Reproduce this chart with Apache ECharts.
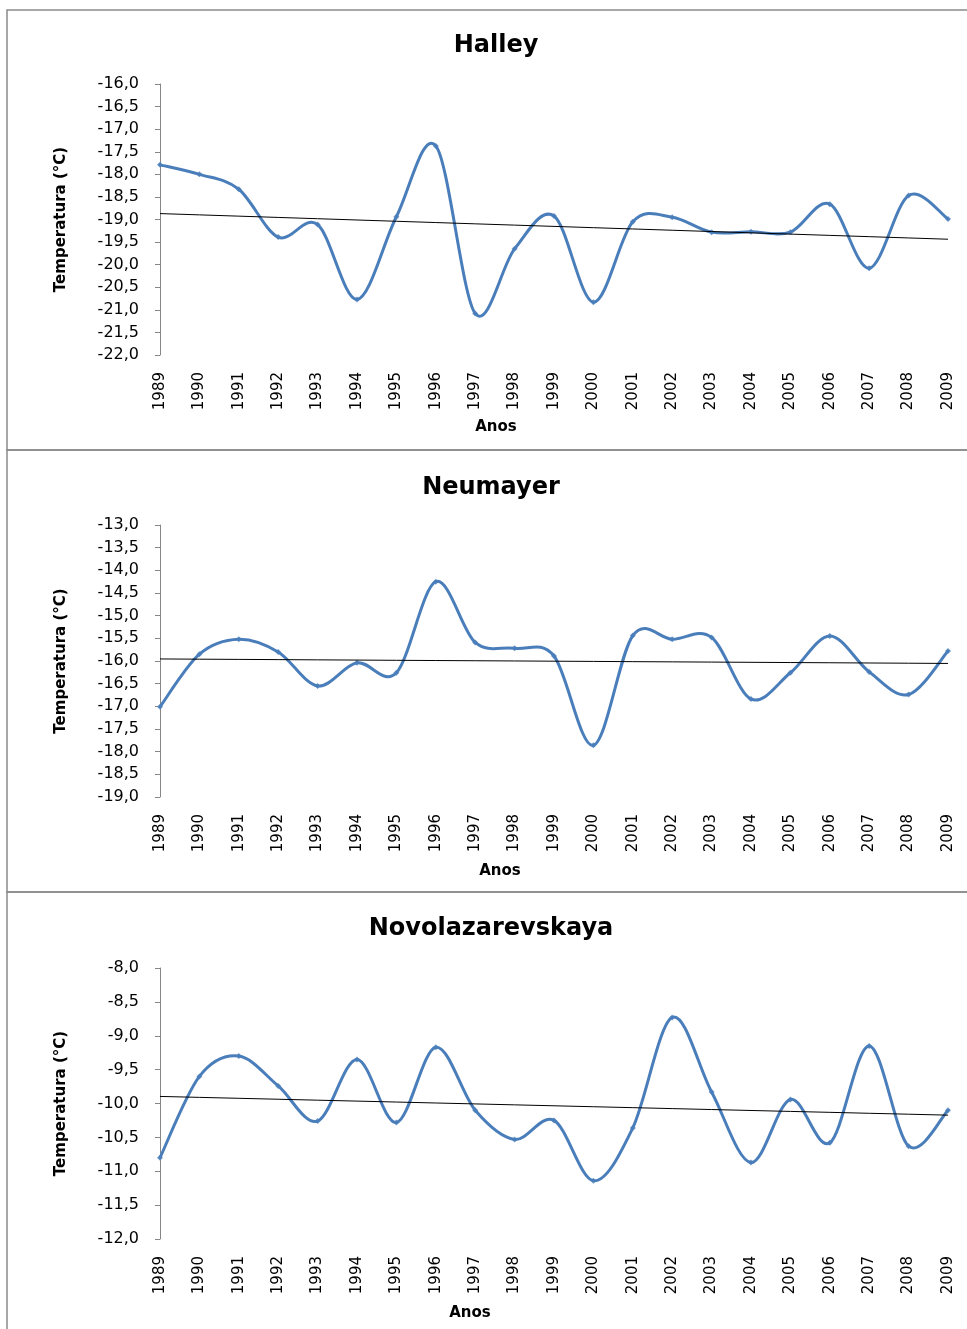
<!DOCTYPE html>
<html>
<head>
<meta charset="utf-8">
<script src="https://cdn.jsdelivr.net/npm/echarts@6/dist/echarts.min.js"></script>
<style>
html,body{margin:0;padding:0;background:#fff;}
#chart{width:967px;height:1329px;}
</style>
</head>
<body>
<div id="chart"></div>
<script>
// ---- data ----
const years = ['1989','1990','1991','1992','1993','1994','1995','1996','1997','1998','1999',
               '2000','2001','2002','2003','2004','2005','2006','2007','2008','2009'];
const halley = [-17.79,-18.00,-18.33,-19.39,-19.11,-20.77,-18.94,-17.37,-21.08,-19.65,-18.92,
                -20.83,-19.05,-18.95,-19.28,-19.27,-19.28,-18.66,-20.08,-18.47,-18.99];
const neumayer = [-17.01,-15.85,-15.52,-15.80,-16.55,-16.04,-16.26,-14.25,-15.59,-15.72,-15.89,
                  -17.86,-15.44,-15.52,-15.48,-16.84,-16.26,-15.45,-16.24,-16.74,-15.78];
const novolazarevskaya = [-10.80,-9.60,-9.30,-9.74,-10.26,-9.35,-10.28,-9.17,-10.10,-10.53,-10.25,
                          -11.14,-10.36,-8.73,-9.83,-10.87,-9.94,-10.58,-9.15,-10.63,-10.10];
const stationNames = ['Halley','Neumayer','Novolazarevskaya'];
const yMins = [-22,-19,-12];
const yMaxs = [-16,-13,-8];
const yStep = 0.5;
const yAxisTitle = 'Temperatura (°C)';
const xAxisTitle = 'Anos';

// ---- helpers ----
function linearTrend(vals){
  const n = vals.length;
  let sx=0, sy=0;
  for(let i=0;i<n;i++){ sx+=i; sy+=vals[i]; }
  const mx=sx/n, my=sy/n;
  let num=0, den=0;
  for(let i=0;i<n;i++){ num+=(i-mx)*(vals[i]-my); den+=(i-mx)*(i-mx); }
  const b=num/den, a=my-b*mx;
  return vals.map((_,i)=>+(a+b*i).toFixed(4));
}
const series = [halley, neumayer, novolazarevskaya];

// ---- layout (positions/styles only) ----
const FONT = 'DejaVu Sans';
const BLUE = '#4A7EBB';
const gridTops = [84, 525, 968];
const gridHeights = [271, 272, 271];
const titleCenters = [[496, 34], [491, 476], [491, 917]];
const xNamePos = [[496, 427], [500, 871], [470, 1313]];
const panelRects = [[7,10,975,440],[7,450,975,442],[7,892,975,450]];

// Smooth (Catmull-Rom style) segment drawn through the axis scales
function smoothSegment(params, api){
  const i = params.dataIndexInside;
  const n = params.dataInsideLength;
  if (i >= n - 1) return {type:'group', children:[]};
  const P = k => api.coord([api.value(0, k), api.value(1, k)]);
  const p0 = P(Math.max(i-1,0)), p1 = P(i), p2 = P(i+1), p3 = P(Math.min(i+2,n-1));
  return {
    type:'bezierCurve',
    shape:{
      x1:p1[0], y1:p1[1], x2:p2[0], y2:p2[1],
      cpx1:p1[0]+(p2[0]-p0[0])/6, cpy1:p1[1]+(p2[1]-p0[1])/6,
      cpx2:p2[0]-(p3[0]-p1[0])/6, cpy2:p2[1]-(p3[1]-p1[1])/6
    },
    style:{stroke:BLUE, lineWidth:3, fill:'none', lineCap:'round'}
  };
}

const chart = echarts.init(document.getElementById('chart'), null, {renderer:'canvas'});

const option = {
  animation: false,
  backgroundColor: '#ffffff',
  title: stationNames.map((t,i)=>({
    text: t, left: titleCenters[i][0], top: titleCenters[i][1], textAlign: 'center', padding: 0,
    textStyle: {fontFamily: FONT, fontSize: 24, fontWeight: 'bold', color: '#000'}
  })),
  grid: gridTops.map((t,i)=>({left:160, top:t, width:788, height:gridHeights[i], outerBoundsMode:'none', containLabel:false})),
  xAxis: series.map((_,i)=>({
    type:'category', gridIndex:i, data: years, boundaryGap:false,
    axisLine:{show:false}, axisTick:{show:false}, splitLine:{show:false},
    axisLabel:{rotate:90, margin:17, interval:0, fontFamily:FONT, fontSize:15, color:'#000'}
  })),
  yAxis: series.map((_,i)=>({
    type:'value', gridIndex:i, min:yMins[i], max:yMaxs[i], interval:yStep,
    name: yAxisTitle, nameLocation:'middle', nameGap:91,
    nameTextStyle:{fontFamily:FONT, fontSize:15, fontWeight:'bold', color:'#000'},
    axisLine:{show:true, lineStyle:{color:'#868686', width:1}},
    axisTick:{show:true, length:5, lineStyle:{color:'#868686'}},
    splitLine:{show:false},
    axisLabel:{margin:21, fontFamily:FONT, fontSize:16, color:'#000',
      formatter: v => v.toFixed(1).replace('.', ',')}
  })),
  series: series.flatMap((vals,i)=>[
    {type:'custom', name:stationNames[i], xAxisIndex:i, yAxisIndex:i,
     data: vals.map((v,k)=>[k, v]), encode:{x:0, y:1}, renderItem: smoothSegment, z:2},
    {type:'scatter', name:stationNames[i]+' pontos', xAxisIndex:i, yAxisIndex:i,
     data: vals.map((v,k)=>[k, v]), symbol:'diamond', symbolSize:6, z:3,
     itemStyle:{color:BLUE}},
    {type:'line', name:stationNames[i]+' tendência', xAxisIndex:i, yAxisIndex:i, data:linearTrend(vals),
     smooth:false, symbol:'none', z:4, lineStyle:{color:'#000', width:1}}
  ]),
  graphic: [
    ...panelRects.map(r=>({type:'rect', silent:true, z:-1,
      shape:{x:r[0], y:r[1], width:r[2], height:r[3]},
      style:{fill:'none', stroke:'#8a8a8a', lineWidth:1.5}})),
    ...xNamePos.map(p=>({type:'text', x:p[0], y:p[1], silent:true,
      style:{text:xAxisTitle, align:'center', verticalAlign:'middle',
        font:'bold 15px "DejaVu Sans"', fill:'#000'}}))
  ]
};
chart.setOption(option);
</script>
</body>
</html>
